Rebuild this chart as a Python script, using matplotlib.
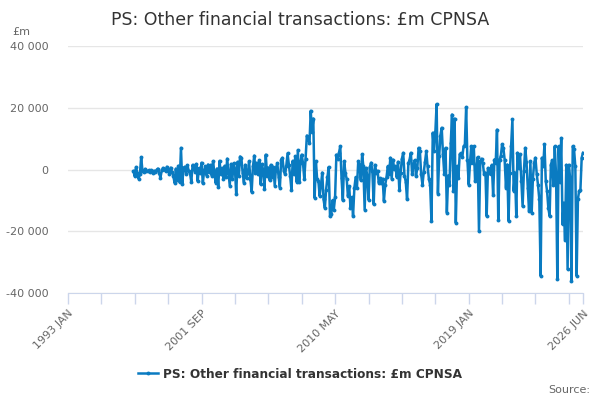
import numpy as np
import pandas as pd
import matplotlib
matplotlib.use("Agg")
import matplotlib.pyplot as plt
import matplotlib.dates as mdates

# monthly series, 1997 APR onwards (values in £m)
start_month = "1997-04-01"
values = [
    -500, -2200, 800, -1000, -3000, -1500, 4000, -500, -800, 200, -600, -400,
    -300, -700, -200, -1000, -400, -800, -100, 300, -1200, -2600, -300, 500,
    200, -600, 900, -300, -1500, 600, -900, -2000, -4300, 300, -3500, 1200,
    -4200, 7000, -4600, 600, 900, -1500, 1400, -500, -1200, -4000, 1500, 200,
    -700, 1800, -3800, 400, -1200, 2200, -4500, -300, 1000, -2000, 1600, -800,
    1500, -2000, 2700, -1000, -4300, 300, -5800, 2800, -1500, 500, -3000, 1200,
    -2500, 3500, -1000, -5200, 1800, -3000, 2000, 300, -8000, 2500, -2000, 4200,
    3800, -1000, -4300, 1500, -2800, -1200, 2600, -3000, -7300, 1000, 4500, -1000,
    2200, -1500, 3000, -4800, 1800, -400, -6200, 4800, -2000, 600, -3500, 1500,
    -2500, 800, -5200, 600, 2000, -2400, -5900, 3200, 3800, -400, -1500, 1000,
    5200, 1500, -2000, -6500, 2800, -1500, 4300, -4000, 6300, -4200, 2200, 4800,
    2000, -3000, 3500, 11000, 10000, 8500, 19000, 12000, 16500, -9200, 2700, -3000,
    -3800, -8600, -5000, -1000, -9700, -12500, -6500, -2500, 800, -15200, -14500, -10000,
    -13000, -9000, 4800, 3500, 5400, 7500, -2800, -10000, 2700, -1000, -3200, -8600,
    -5500, -12400, -9000, -15100, -6000, -2500, -5900, 2700, 1500, -3500, 4900, 1000,
    -13000, 500, -2000, -9800, 800, 2200, -600, -11300, 1500, -1000, -400, -4300,
    -2800, -4300, -3000, -10200, -5000, -2500, 1000, -1500, 3800, -3000, 3200, 200,
    1000, -2500, 2500, -6500, -1000, 3500, 5400, -2000, -4000, -9700, 2000, 3200,
    5400, -1500, 1500, 3000, -2200, 500, 7000, 6000, -1600, -4900, -800, 2500,
    5900, 1000, -3000, -5000, -16700, 11900, 6000, 12000, 21200, -7800, 4500, 11000,
    13500, 5000, -1500, 7000, -14000, -2000, -5000, 8500, 17800, -7000, 16500, -17300,
    1000, -2700, 4900, 5300, 4000, 7500, 8000, 20200, 3000, -4900, 2200, 7500,
    2000, 7500, -3800, -500, 4000, -20000, 2700, 3500, 2000, -1600, -1000, -15100,
    500, -1200, -1600, 1500, -8100, 3200, 2000, 12900, -16200, 3000, 4500, 8100,
    7000, 3200, -5900, 1600, -16700, -1000, 7500, 16200, -7000, -1000, -15100, 5400,
    500, 4900, -3800, -11900, -500, 7000, 2500, -6000, -13500, 2700, -14000, -3000,
    2200, 3800, -1500, -5000, -9700, -34500, 3800, 1000, 8100, -3800, -7000, -12400,
    -15100, 1600, 3000, -5000, 7500, -2000, -35600, 7500, -4000, 10200, -17800, -10800,
    -22700, 1500, -32300, 1500, -3000, -36100, 7500, 6500, 1000, -34500, -9500, -7000,
    -6500, 3800, 5400,
]
dates = pd.date_range(start_month, periods=len(values), freq="MS")

series_name = "PS: Other financial transactions: £m CPNSA"
y_ticks = [-40000, -20000, 0, 20000, 40000]
x_start = pd.Timestamp("1993-01-01")
x_end = pd.Timestamp("2026-06-01")
label_ticks = ["1993-01-01", "2001-09-01", "2010-05-01", "2019-01-01", "2026-06-01"]

blue = "#0a7bc1"
grey_text = "#666666"

fig = plt.figure(figsize=(6, 4), dpi=100)
ax = fig.add_axes([68 / 600, 1 - 293 / 400, (583 - 68) / 600, (293 - 46) / 400])

ax.plot(dates, values, color=blue, lw=1.8, marker="o", ms=2.8,
        markeredgewidth=0, label=series_name, zorder=3)

ax.set_ylim(-40000, 40000)
ax.set_yticks(y_ticks)
ax.set_yticklabels([f"{v:,}".replace(",", " ") for v in y_ticks])
ax.grid(axis="y", color="#e6e6e6", lw=1)
ax.set_axisbelow(True)

# x ticks every 26 months, labels on every fourth one plus the end
minor = pd.date_range(x_start, x_end, freq="26MS")
all_ticks = list(minor) + [x_end]
ax.set_xlim(x_start, x_end)
ax.set_xticks(all_ticks)
lab_ts = [pd.Timestamp(t) for t in label_ticks]
ax.set_xticklabels([t.strftime("%Y %b").upper() if t in lab_ts else "" for t in all_ticks],
                   rotation=45, ha="right", rotation_mode="anchor")

for s in ["top", "right", "left"]:
    ax.spines[s].set_visible(False)
ax.spines["bottom"].set_color("#ccd6eb")
ax.tick_params(axis="x", colors="#ccd6eb", length=8, width=1, labelcolor=grey_text, labelsize=8, pad=3)
ax.tick_params(axis="y", length=0, labelcolor=grey_text, labelsize=8, pad=14)

fig.text(300 / 600, 1 - 20 / 400, series_name, ha="center", va="center",
         fontsize=12.5, color="#333333")
fig.text(12 / 600, 1 - 32 / 400, "£m", ha="left", va="center", fontsize=8, color=grey_text)
fig.text(590 / 600, 1 - 390 / 400, "Source:", ha="right", va="center", fontsize=8, color=grey_text)

leg = fig.legend(loc="center", bbox_to_anchor=(300 / 600, 1 - 374 / 400), frameon=False,
                 prop={"weight": "bold", "size": 8.7}, handlelength=1.6, handletextpad=0.4)
for t in leg.get_texts():
    t.set_color("#333333")

fig.savefig("out.png", dpi=100)
